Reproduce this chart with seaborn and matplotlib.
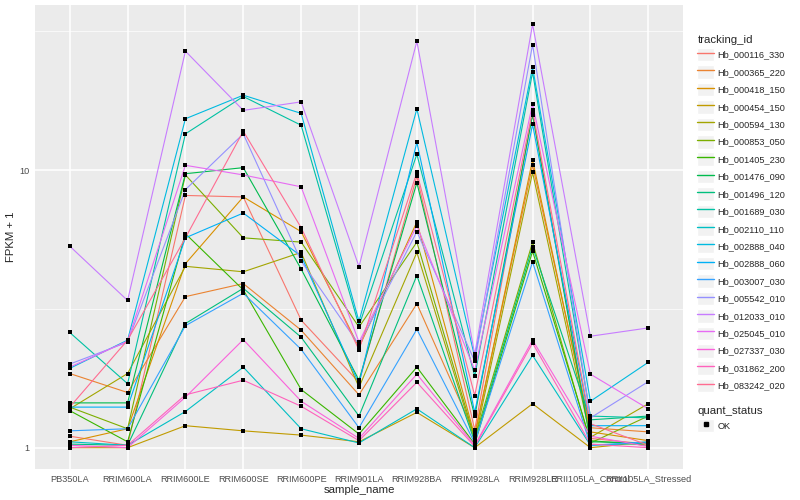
import pandas as pd
import seaborn as sns
import matplotlib.pyplot as plt
from matplotlib.lines import Line2D
from matplotlib.patches import Rectangle
from matplotlib.legend_handler import HandlerTuple
from matplotlib.ticker import FixedLocator, NullFormatter

samples = ['PB350LA', 'RRIM600LA', 'RRIM600LE', 'RRIM600SE', 'RRIM600PE', 'RRIM901LA',
           'RRIM928BA', 'RRIM928LA', 'RRIM928LE', 'RRII105LA_Control', 'RRII105LA_Stressed']

tracking_ids = ['Hb_000116_330', 'Hb_000365_220', 'Hb_000418_150', 'Hb_000454_150', 'Hb_000594_130',
                'Hb_000853_050', 'Hb_001405_230', 'Hb_001476_090', 'Hb_001496_120', 'Hb_001689_030',
                'Hb_002110_110', 'Hb_002888_040', 'Hb_002888_060', 'Hb_003007_030', 'Hb_005542_010',
                'Hb_012033_010', 'Hb_025045_010', 'Hb_027337_030', 'Hb_031862_200', 'Hb_083242_020']

# FPKM + 1 per sample, in the order of samples
hb_000116_330 = [1.10, 1.02, 8.1, 8.0, 2.88, 1.72, 9.5, 1.16, 16.0, 1.08, 1.03]
hb_000365_220 = [1.85, 1.58, 3.5, 3.9, 2.65, 1.55, 3.3, 1.12, 10.4, 1.18, 1.14]
hb_000418_150 = [1.05, 1.17, 4.6, 8.0, 6.0, 2.30, 6.5, 1.10, 10.9, 1.14, 1.06]
hb_000454_150 = [1.00, 1.00, 1.2, 1.15, 1.11, 1.05, 1.34, 1.00, 1.44, 1.00, 1.05]
hb_000594_130 = [1.38, 1.85, 4.5, 4.3, 5.05, 1.65, 5.05, 1.06, 9.8, 1.09, 1.44]
hb_000853_050 = [1.40, 1.17, 9.6, 5.7, 5.5, 2.72, 5.5, 1.08, 5.5, 1.04, 1.30]
hb_001405_230 = [1.36, 1.05, 5.9, 3.7, 1.62, 1.12, 1.95, 1.03, 5.1, 1.06, 1.02]
hb_001476_090 = [1.45, 1.45, 9.7, 10.2, 4.4, 1.75, 9.0, 1.30, 15.8, 1.05, 1.04]
hb_001496_120 = [1.03, 1.02, 2.8, 3.75, 2.5, 1.30, 4.17, 1.05, 5.3, 1.26, 1.30]
hb_001689_030 = [2.60, 1.70, 13.5, 18.4, 14.5, 2.75, 11.4, 1.81, 22.5, 1.30, 1.28]
hb_002110_110 = [1.05, 1.02, 1.35, 1.95, 1.17, 1.04, 1.38, 1.00, 2.15, 1.02, 1.04]
hb_002888_040 = [1.93, 2.44, 15.3, 18.6, 16.0, 2.85, 16.6, 2.12, 23.5, 1.47, 2.03]
hb_002888_060 = [1.40, 1.40, 5.7, 7.0, 4.9, 1.70, 12.6, 1.34, 14.6, 1.20, 1.20]
hb_003007_030 = [1.15, 1.17, 2.75, 3.6, 2.26, 1.18, 2.67, 1.04, 4.67, 1.02, 1.05]
hb_005542_010 = [2.00, 2.40, 8.5, 13.5, 4.7, 2.35, 6.0, 2.05, 28.3, 1.28, 1.73]
hb_012033_010 = [5.32, 3.39, 26.8, 16.4, 17.6, 4.49, 29.1, 2.17, 33.5, 2.52, 2.70]
hb_025045_010 = [1.95, 2.42, 10.4, 9.6, 8.7, 2.40, 6.3, 1.90, 17.3, 1.84, 1.38]
hb_027337_030 = [1.02, 1.00, 1.52, 2.45, 1.47, 1.08, 1.84, 1.02, 2.44, 1.10, 1.01]
hb_031862_200 = [1.00, 1.02, 1.55, 1.75, 1.41, 1.06, 1.72, 1.01, 2.38, 1.03, 1.00]
hb_083242_020 = [1.40, 2.44, 5.7, 13.8, 6.2, 2.25, 9.8, 1.54, 16.4, 1.22, 1.02]

series = [hb_000116_330, hb_000365_220, hb_000418_150, hb_000454_150, hb_000594_130,
          hb_000853_050, hb_001405_230, hb_001476_090, hb_001496_120, hb_001689_030,
          hb_002110_110, hb_002888_040, hb_002888_060, hb_003007_030, hb_005542_010,
          hb_012033_010, hb_025045_010, hb_027337_030, hb_031862_200, hb_083242_020]

# ggplot hue palette for 20 levels
colors = ['#F8766D', '#EA8331', '#D89000', '#C09B00', '#A3A500', '#7CAE00', '#39B600', '#00BB4E',
          '#00BF7D', '#00C1A3', '#00BFC4', '#00BAE0', '#00B0F6', '#35A2FF', '#9590FF', '#C77CFF',
          '#E76BF3', '#FA62DB', '#FF62BC', '#FF6C91']

rows = []
for tid, vals in zip(tracking_ids, series):
    for s, v in zip(samples, vals):
        rows.append({'tracking_id': tid, 'sample_name': s, 'fpkm1': v, 'quant_status': 'OK'})
df = pd.DataFrame(rows)
df['x'] = df['sample_name'].map({s: i for i, s in enumerate(samples)})

sns.set_style('darkgrid', {'axes.facecolor': '#EBEBEB', 'grid.color': 'white'})
plt.rcParams['font.family'] = ['Liberation Sans', 'DejaVu Sans']

fig = plt.figure(figsize=(8, 5), dpi=100)
ax = fig.add_axes([0.04375, 0.062, 0.81, 0.928])

palette = dict(zip(tracking_ids, colors))
sns.lineplot(data=df, x='x', y='fpkm1', hue='tracking_id', palette=palette,
             estimator=None, sort=False, linewidth=0.8, legend=False, ax=ax)
sns.scatterplot(data=df, x='x', y='fpkm1', color='black', marker='s', s=7,
                linewidth=0, legend=False, ax=ax, zorder=5)

ax.set_yscale('log')
ax.set_ylim(0.838, 39.3)
ax.set_xlim(-0.6, len(samples) - 0.4)
ax.yaxis.set_major_locator(FixedLocator([1, 10]))
ax.yaxis.set_minor_locator(FixedLocator([10 ** 0.5, 10 ** 1.5]))
ax.yaxis.set_minor_formatter(NullFormatter())
ax.set_yticklabels(['1', '10'])
ax.set_xticks(range(len(samples)))
ax.set_xticklabels(samples)
ax.grid(which='major', color='white', linewidth=1.1)
ax.grid(which='minor', axis='y', color='white', linewidth=0.5)
for sp in ax.spines.values():
    sp.set_visible(False)
ax.tick_params(axis='both', which='major', length=2.5, width=0.8, color='#333333',
               labelsize=6.6, labelcolor='#4D4D4D', pad=1.5)
ax.tick_params(axis='y', which='minor', length=0)
ax.set_xlabel('sample_name', fontsize=8.2, labelpad=1)
ax.set_ylabel('FPKM + 1', fontsize=8.2, labelpad=2)

# legends
handles = [(Rectangle((0, 0), 1, 1, facecolor='#F2F2F2', edgecolor='white'),
            Line2D([], [], color=c, linewidth=1.0)) for c in colors]
leg1 = fig.legend(handles, tracking_ids, title='tracking_id', loc='upper left',
                  bbox_to_anchor=(0.866, 0.939), frameon=False, fontsize=6.6,
                  title_fontsize=8.2, handlelength=1.8, handleheight=1.9,
                  labelspacing=0.42, handletextpad=0.4, borderpad=0,
                  handler_map={tuple: HandlerTuple(ndivide=1)})
leg1._legend_box.align = 'left'
leg1._legend_box.sep = 2

h2 = [(Rectangle((0, 0), 1, 1, facecolor='#F2F2F2', edgecolor='white'),
       Line2D([], [], color='black', marker='s', linestyle='none', markersize=2.5))]
leg2 = fig.legend(h2, ['OK'], title='quant_status', loc='upper left',
                  bbox_to_anchor=(0.866, 0.197), frameon=False, fontsize=6.6,
                  title_fontsize=8.2, handlelength=1.8, handleheight=1.9,
                  handletextpad=0.4, borderpad=0,
                  handler_map={tuple: HandlerTuple(ndivide=1)})
leg2._legend_box.align = 'left'
leg2._legend_box.sep = 2

fig.savefig('out.png', dpi=100)
